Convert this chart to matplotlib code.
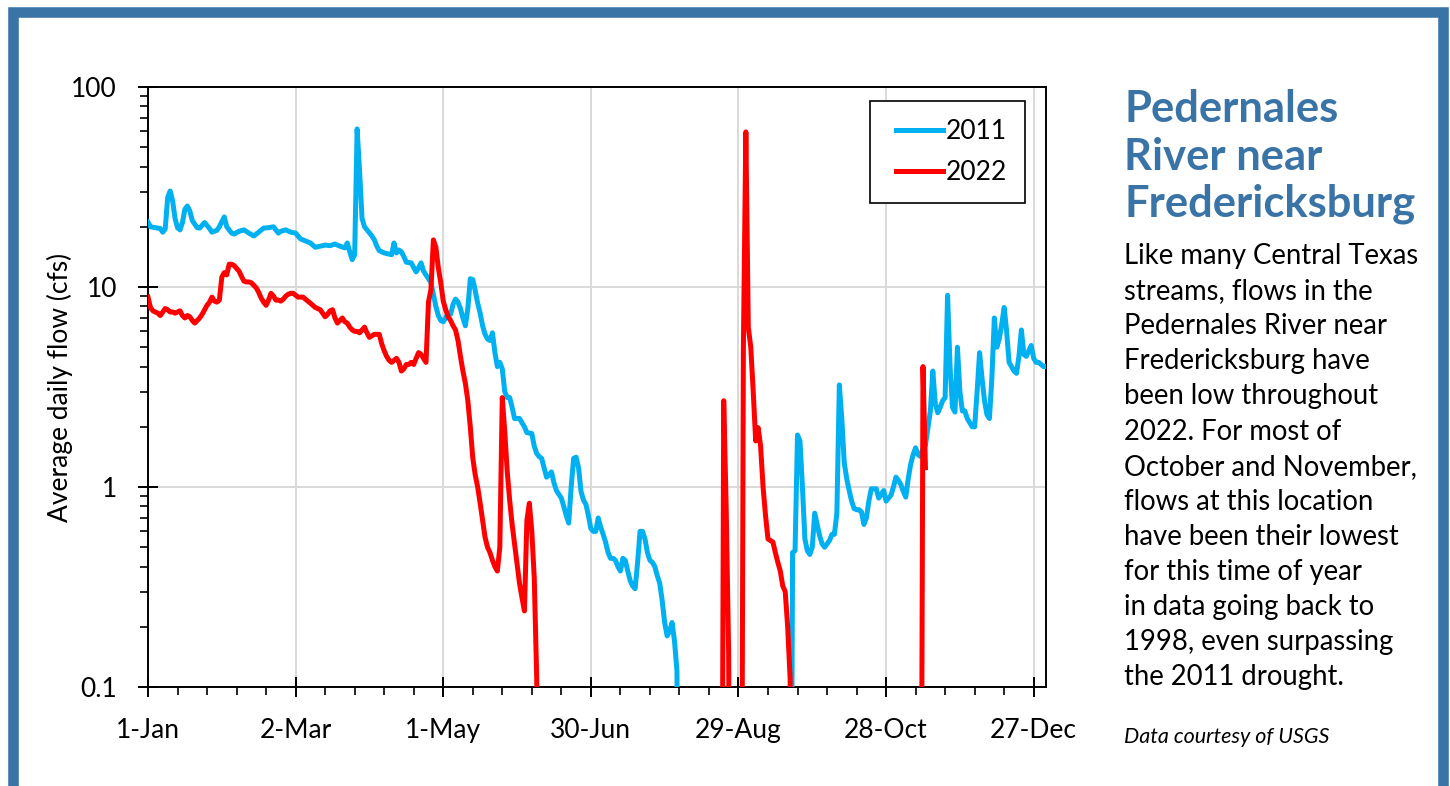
# Pedernales River near Fredericksburg: daily flow 2011 vs 2022 (log scale)

import numpy as np
import matplotlib
matplotlib.use("Agg")
import matplotlib.pyplot as plt
import matplotlib.patches as patches
from matplotlib.lines import Line2D
from matplotlib.legend_handler import HandlerLine2D
from matplotlib.ticker import MultipleLocator, LogLocator, NullFormatter

# day of year (0 = 1-Jan) and average daily flow (cfs); 0 means no flow
days_2011 = [0, 1, 3, 5, 6, 7, 8, 9, 10, 11, 12, 13, 14, 15, 16, 17, 18, 20, 21, 23,
             25, 26, 28, 29, 30, 31, 32, 34, 35, 37, 39, 41, 43, 45, 47, 49, 51, 53, 54, 56,
             58, 60, 62, 64, 66, 68, 70, 72, 74, 76, 78, 80, 81, 82, 83, 84, 85, 86, 87, 88,
             89, 91, 92, 93, 94, 96, 98, 99, 100, 101, 102, 103, 104, 105, 107, 108, 109, 110, 111, 112,
             113, 114, 115, 116, 117, 118, 119, 120, 121, 122, 123, 124, 125, 126, 127, 128, 129, 130, 131, 132,
             133, 134, 135, 136, 137, 138, 139, 140, 141, 142, 143, 144, 145, 146, 147, 148, 149, 151, 152, 153,
             154, 156, 157, 158, 159, 160, 161, 162, 163, 164, 165, 166, 168, 169, 170, 171, 172, 173, 174, 175,
             176, 177, 178, 179, 180, 181, 182, 183, 184, 185, 186, 187, 188, 189, 190, 191, 192, 193, 194, 195,
             196, 197, 198, 199, 200, 201, 202, 203, 204, 205, 206, 207, 208, 209, 210, 211, 212, 213, 214, 215,
             216, 261, 262, 263, 264, 265, 266, 267, 268, 269, 270, 271, 272, 273, 274, 275, 276, 277, 278, 279,
             280, 281, 282, 283, 284, 285, 286, 287, 288, 289, 290, 291, 292, 293, 294, 295, 296, 297, 298, 299,
             300, 301, 302, 303, 304, 305, 306, 307, 308, 309, 310, 311, 312, 313, 314, 315, 316, 317, 318, 319,
             320, 321, 322, 323, 324, 325, 326, 327, 328, 329, 330, 331, 332, 333, 334, 335, 336, 337, 338, 339,
             340, 341, 342, 343, 344, 345, 346, 347, 348, 349, 350, 351, 352, 353, 354, 355, 356, 357, 358, 359,
             360, 361, 362, 363, 364, 365]
flow_2011 = [21.1, 20.0, 19.8, 19.6, 18.8, 19.5, 28, 30.2, 27, 22, 19.8, 19.3, 21, 24.5, 25.4, 24, 21.5, 19.8, 19.7, 21,
             19.6, 18.8, 19.2, 20, 21.2, 22.4, 20, 18.6, 18.4, 19, 19.3, 18.6, 18.0, 18.8, 19.7, 19.8, 20, 18.6, 19, 19.3,
             18.8, 18.6, 17.4, 17, 16.6, 15.8, 16.0, 16.2, 16.1, 16.4, 16.0, 15.7, 16.6, 15.0, 13.7, 14.5, 61.7, 38, 22, 20,
             19.3, 18, 17.2, 16, 15.2, 14.8, 14.6, 14.5, 16.6, 14.8, 15.3, 15.0, 14.2, 13.3, 13.2, 12.5, 11.9, 12.5, 13.2, 12,
             11.5, 11, 10.5, 9.2, 8.0, 7.2, 6.8, 6.7, 7.0, 7.4, 7.3, 8.2, 8.7, 8.4, 7.8, 7.0, 6.4, 7.8, 11.0, 10.9,
             9.6, 8.3, 7.4, 6.4, 5.8, 5.5, 5.4, 5.9, 4.7, 4.0, 4.2, 3.9, 3.0, 2.8, 2.8, 2.5, 2.2, 2.2, 2.1, 2.0,
             1.87, 1.85, 1.6, 1.47, 1.42, 1.39, 1.25, 1.12, 1.15, 1.19, 1.05, 0.96, 0.88, 0.8, 0.72, 0.66, 1.0, 1.39, 1.41, 1.25,
             0.95, 0.86, 0.82, 0.72, 0.62, 0.60, 0.60, 0.70, 0.63, 0.58, 0.53, 0.47, 0.44, 0.44, 0.43, 0.40, 0.38, 0.44, 0.43, 0.38,
             0.34, 0.32, 0.31, 0.42, 0.60, 0.60, 0.55, 0.47, 0.43, 0.42, 0.40, 0.36, 0.33, 0.27, 0.21, 0.18, 0.19, 0.21, 0.17, 0.12,
             0, 0, 0.47, 0.48, 1.82, 1.7, 1.0, 0.55, 0.48, 0.46, 0.50, 0.74, 0.65, 0.57, 0.52, 0.50, 0.52, 0.54, 0.58, 0.58,
             0.74, 3.24, 2.2, 1.32, 1.1, 0.96, 0.85, 0.78, 0.77, 0.77, 0.75, 0.65, 0.70, 0.85, 0.98, 0.98, 0.98, 0.88, 0.92, 0.96,
             0.85, 0.88, 0.91, 1.0, 1.12, 1.08, 1.03, 0.95, 0.89, 1.1, 1.3, 1.45, 1.57, 1.45, 1.42, 1.55, 1.62, 1.98, 2.4, 3.8,
             2.6, 2.35, 2.5, 2.7, 2.8, 9.1, 4.0, 2.5, 2.37, 5.0, 3.0, 2.4, 2.4, 2.2, 2.1, 2.0, 2.0, 3.0, 4.7, 3.5,
             2.7, 2.3, 2.2, 3.5, 7.0, 5.0, 5.5, 6.5, 7.9, 6.0, 4.2, 4.0, 3.8, 3.7, 4.5, 6.1, 4.6, 4.5, 4.8, 5.1,
             4.4, 4.2, 4.2, 4.1, 4.0, 4.0]

days_2022 = [0, 1, 2, 3, 4, 5, 6, 7, 8, 9, 10, 11, 12, 13, 14, 15, 16, 17, 18, 19,
             20, 21, 22, 23, 24, 25, 26, 27, 28, 29, 30, 31, 32, 33, 34, 35, 36, 37, 38, 39,
             40, 41, 42, 43, 44, 45, 46, 47, 48, 49, 50, 51, 52, 53, 54, 55, 56, 57, 58, 59,
             60, 61, 62, 63, 64, 65, 66, 67, 68, 69, 70, 71, 72, 73, 74, 75, 76, 77, 78, 79,
             80, 81, 82, 83, 84, 85, 86, 87, 88, 89, 90, 91, 92, 93, 94, 95, 96, 97, 98, 99,
             100, 101, 102, 103, 104, 105, 106, 107, 108, 109, 110, 111, 112, 113, 114, 115, 116, 117, 118, 119,
             120, 121, 122, 123, 124, 125, 126, 127, 128, 129, 130, 131, 132, 133, 134, 135, 136, 137, 138, 139,
             140, 141, 142, 143, 144, 145, 146, 147, 148, 149, 150, 151, 152, 153, 154, 155, 156, 157, 158, 159,
             233, 234, 235, 236, 237, 241, 242, 243, 244, 245, 246, 247, 248, 249, 250, 251, 252, 253, 254, 255,
             256, 257, 258, 259, 260, 261, 262, 314, 315, 316]
flow_2022 = [8.9, 7.9, 7.6, 7.5, 7.4, 7.2, 7.5, 7.8, 7.7, 7.5, 7.5, 7.4, 7.5, 7.6, 7.2, 7.0, 7.2, 7.1, 6.8, 6.6,
             6.8, 7.0, 7.3, 7.7, 8.1, 8.4, 8.9, 8.5, 8.4, 8.6, 11.2, 11.8, 11.5, 13.0, 13.0, 12.8, 12.4, 12.0, 11.3, 10.7,
             10.6, 10.6, 10.5, 10.2, 9.9, 9.4, 8.8, 8.4, 8.1, 8.6, 9.3, 9.0, 8.6, 8.6, 8.5, 8.7, 9.0, 9.2, 9.3, 9.3,
             9.1, 8.9, 8.9, 8.9, 8.7, 8.5, 8.3, 8.1, 7.9, 7.8, 7.7, 7.4, 7.1, 7.3, 7.6, 7.7, 7.0, 6.6, 6.8, 7.0,
             6.7, 6.6, 6.3, 6.1, 6.0, 6.0, 5.9, 6.1, 6.3, 5.9, 5.6, 5.7, 5.8, 5.8, 5.8, 5.2, 4.8, 4.5, 4.3, 4.2,
             4.3, 4.4, 4.2, 3.8, 3.9, 4.1, 4.1, 4.2, 4.1, 4.4, 4.7, 4.6, 4.4, 4.2, 8.4, 9.7, 17.2, 15.8, 12.5, 10.5,
             8.5, 7.7, 7.1, 6.8, 6.4, 6.1, 5.4, 4.5, 3.8, 3.3, 2.7, 2.0, 1.4, 1.15, 1.0, 0.83, 0.68, 0.56, 0.5, 0.47,
             0.43, 0.40, 0.38, 0.50, 2.8, 1.9, 1.2, 0.86, 0.65, 0.52, 0.42, 0.33, 0.28, 0.24, 0.68, 0.83, 0.6, 0.35, 0.11, 0,
             0, 2.7, 0.8, 0.15, 0, 0, 5, 59.6, 6.3, 5.0, 3.0, 1.7, 1.98, 1.6, 1.0, 0.72, 0.55, 0.54, 0.53, 0.47,
             0.42, 0.38, 0.32, 0.30, 0.2, 0.11, 0, 0, 4.0, 1.25]

tick_days = [0, 60, 120, 180, 240, 300, 360]
tick_labels = ["1-Jan", "2-Mar", "1-May", "30-Jun", "29-Aug", "28-Oct", "27-Dec"]
y_ticks = [0.1, 1, 10, 100]
y_labels = ["0.1", "1", "10", "100"]

title_lines = ["Pedernales", "River near", "Fredericksburg"]
body_lines = ["Like many Central Texas", "streams, flows in the", "Pedernales River near",
              "Fredericksburg have", "been low throughout", "2022. For most of",
              "October and November,", "flows at this location", "have been their lowest",
              "for this time of year", "in data going back to", "1998, even surpassing",
              "the 2011 drought."]
credit = "Data courtesy of USGS"

FRAME = "#3A74A6"
BLUE = "#00B0F0"
RED = "#FF0000"
W, H = 1450, 786

plt.rcParams['font.family'] = ['Lato', 'DejaVu Sans']

fig = plt.figure(figsize=(W / 100, H / 100), dpi=100)
ax = fig.add_axes([148 / W, 99 / H, 898 / W, 600 / H])

# zero flow is drawn below the log axis so the line drops off the bottom
def floor_zero(v):
    v = np.array(v, dtype=float)
    return np.where(v > 0, v, 1e-3)

ax.plot(days_2011, floor_zero(flow_2011), color=BLUE, lw=3.6, label="2011",
        solid_joinstyle="round", zorder=3)
ax.plot(days_2022, floor_zero(flow_2022), color=RED, lw=3.6, label="2022",
        solid_joinstyle="round", zorder=4)

ax.set_yscale("log")
ax.set_ylim(0.1, 100)
ax.set_xlim(0, 365)

ax.set_xticks(tick_days)
ax.set_xticklabels(tick_labels)
ax.xaxis.set_minor_locator(MultipleLocator(12))
ax.set_yticks(y_ticks)
ax.set_yticklabels(y_labels)
ax.yaxis.set_minor_locator(LogLocator(base=10, subs=np.arange(2, 10)))
ax.yaxis.set_minor_formatter(NullFormatter())

ax.tick_params(axis="both", which="major", direction="inout", length=14.5,
               width=1.4, labelsize=19, color="black")
ax.tick_params(axis="x", which="major", pad=15)
ax.tick_params(axis="y", which="major", pad=15)
ax.tick_params(axis="both", which="minor", direction="out", length=5.5, width=1.2)

ax.grid(True, which="major", color="#D9D9D9", lw=1.4, zorder=0)
ax.set_axisbelow(True)
for s in ax.spines.values():
    s.set_linewidth(1.4)
    s.set_color("black")

ax.set_ylabel("Average daily flow (cfs)", fontsize=19)
ax.yaxis.set_label_coords(-0.0835, 0.5)

leg = ax.legend(loc="upper right", bbox_to_anchor=(0.9766, 0.9767), fontsize=19,
                frameon=True, fancybox=False, edgecolor="black", framealpha=1,
                handlelength=2.1, handletextpad=0.1, borderpad=0.68,
                labelspacing=0.6, borderaxespad=0,
                handler_map={Line2D: HandlerLine2D(xpad=0.3)})
leg.get_frame().set_linewidth(1.2)

# blue frame round the whole graphic
fig.patches.append(patches.Rectangle((13 / W, -2 / H), 1429.5 / W, (H - 11.5 + 2) / H,
                                     transform=fig.transFigure, fill=False,
                                     edgecolor=FRAME, lw=7.6))

for i, line in enumerate(title_lines):
    fig.text(1124 / W, 1 - (122 + 47.5 * i) / H, line, color=FRAME, fontsize=31.3,
             fontweight="bold", va="baseline", ha="left")
for i, line in enumerate(body_lines):
    fig.text(1124 / W, 1 - (264 + 35.1 * i) / H, line, fontsize=19.8, va="baseline", ha="left")
fig.text(1124 / W, 1 - 743 / H, credit, fontsize=15.5, style="italic", va="baseline", ha="left")

fig.savefig("out.png", dpi=100)
